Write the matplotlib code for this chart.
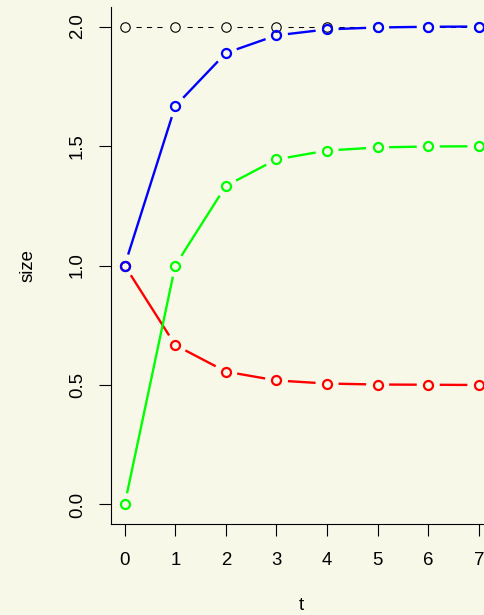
import numpy as np
import matplotlib
matplotlib.use("Agg")
import matplotlib.pyplot as plt

plt.rcParams['font.family'] = ['Liberation Sans', 'DejaVu Sans']

t = [0, 1, 2, 3, 4, 5, 6, 7]
total = [2.0, 2.0, 2.0, 2.0, 2.0, 2.0, 2.0, 2.0]
red_vals = [1.0, 0.667, 0.556, 0.519, 0.506, 0.502, 0.501, 0.500]
green_vals = [0.0, 1.0, 1.333, 1.444, 1.481, 1.494, 1.498, 1.499]
blue_vals = [1.0, 1.667, 1.889, 1.963, 1.988, 1.996, 1.999, 2.0]
xticks = [0, 1, 2, 3, 4, 5, 6, 7]
yticks = [0.0, 0.5, 1.0, 1.5, 2.0]

BG = '#f8f8e9'
W, H = 484, 615
fig = plt.figure(figsize=(W / 100, H / 100), dpi=100, facecolor=BG)
left, right, top, bottom = 110.5, 493.0, 7.4, 523.6
ax = fig.add_axes([left / W, 1 - bottom / H, (right - left) / W, (bottom - top) / H])
ax.set_facecolor(BG)
ax.set_xlim(-0.28, 7.28)
ax.set_ylim(-0.08, 2.08)
for s in ['top', 'right']:
    ax.spines[s].set_visible(False)
for s in ['left', 'bottom']:
    ax.spines[s].set_linewidth(0.8)
ax.set_xticks(xticks)
ax.set_xticklabels([str(v) for v in xticks])
ax.set_yticks(yticks)
ax.set_yticklabels([f"{v:.1f}" for v in yticks], rotation=90, va='center')
ax.tick_params(axis='both', direction='out', length=8.3, width=0.8, labelsize=13.4)
ax.tick_params(axis='x', pad=12.0)
ax.tick_params(axis='y', pad=9.5)

def draw_b(xs, ys, color, lw, ls, ms, mew, gap=11.5):
    pts = ax.transData.transform(np.column_stack([xs, ys]))
    inv = ax.transData.inverted()
    for i in range(len(pts) - 1):
        p0, p1 = pts[i], pts[i + 1]
        d = p1 - p0
        L = np.hypot(*d)
        if L <= 2 * gap:
            continue
        u = d / L
        q = inv.transform(np.array([p0 + u * gap, p1 - u * gap]))
        ax.plot(q[:, 0], q[:, 1], color=color, lw=lw, ls=ls,
                solid_capstyle='butt', dash_capstyle='butt', clip_on=False)
    ax.plot(xs, ys, ls='none', marker='o', ms=ms, mew=mew,
            mfc='none', mec=color, clip_on=False)

draw_b(t, total, 'black', 0.75, (0, (5, 5)), 6.8, 0.8)
draw_b(t, red_vals, '#ff0000', 1.7, '-', 6.5, 1.6)
draw_b(t, green_vals, '#00ff00', 1.7, '-', 6.5, 1.6)
draw_b(t, blue_vals, '#0000ff', 1.7, '-', 6.5, 1.6)

fig.text(301.75 / W, 1 - 606 / H, 't', ha='center', va='center', fontsize=13.4)
fig.text(28 / W, 1 - 265.5 / H, 'size', ha='center', va='center', rotation=90, fontsize=13.4)

fig.savefig('out.png', dpi=100, facecolor=BG)
